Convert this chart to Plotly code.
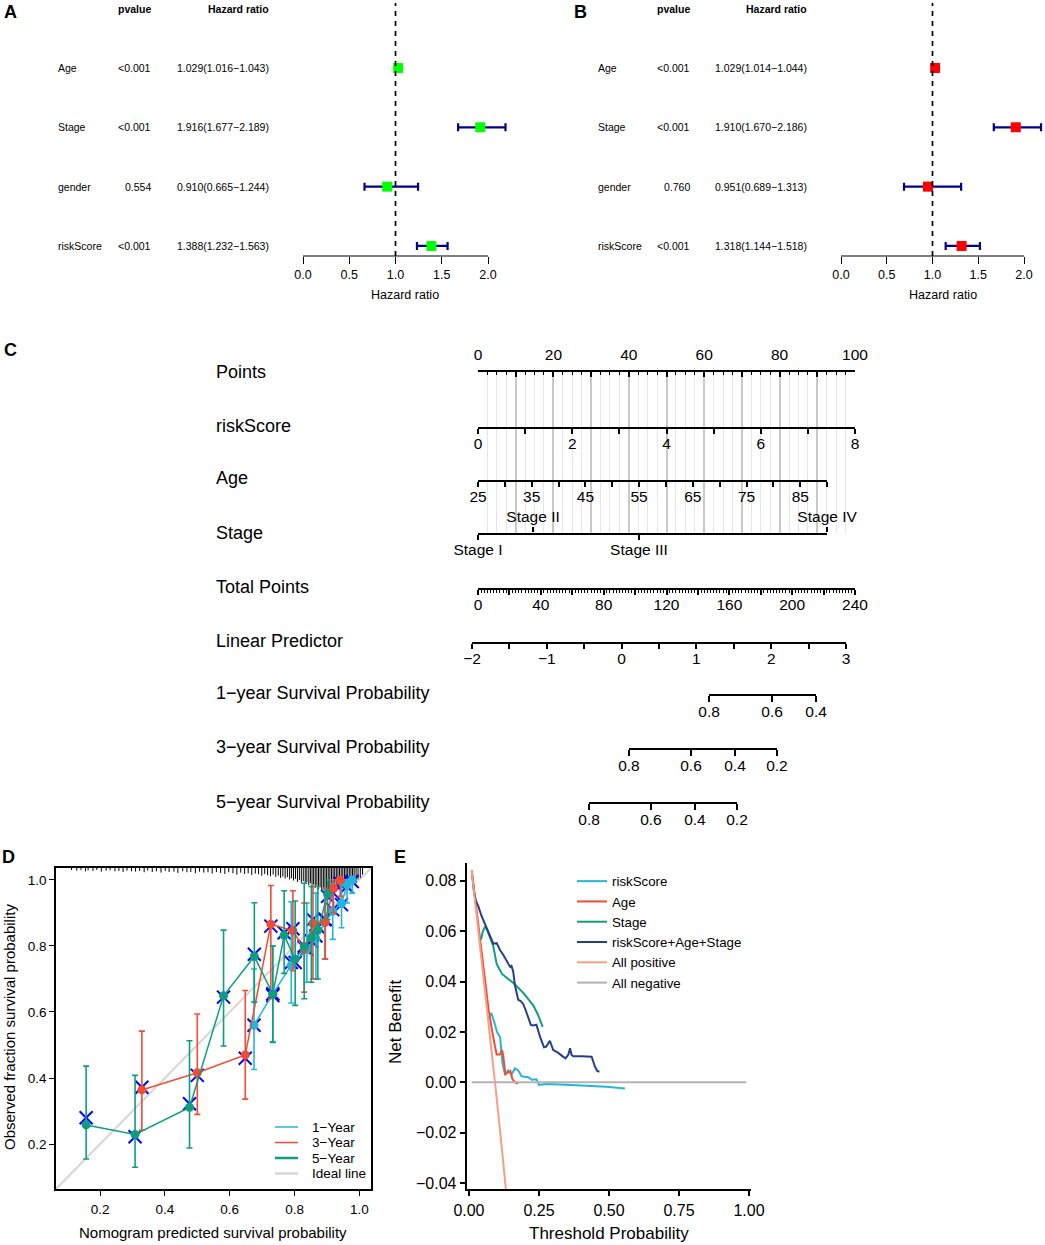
import plotly.graph_objects as go

W, H = 1045, 1245
FONT = "Liberation Sans, Arial, Helvetica, sans-serif"


def fx(p):
    return p / W


def fy(p):
    return 1 - p / H


def span(v0, p0, v1, p1, d0, d1):
    k = (v1 - v0) / (p1 - p0)
    return [v0 + (d0 - p0) * k, v0 + (d1 - p0) * k]


# ---------------- data: panels A / B (forest plots) ----------------
forest_vars = ["Age", "Stage", "gender", "riskScore"]
uni_p = ["<0.001", "<0.001", "0.554", "<0.001"]
uni_hr = [1.029, 1.916, 0.910, 1.388]
uni_lo = [1.016, 1.677, 0.665, 1.232]
uni_hi = [1.043, 2.189, 1.244, 1.563]
multi_p = ["<0.001", "<0.001", "0.760", "<0.001"]
multi_hr = [1.029, 1.910, 0.951, 1.318]
multi_lo = [1.014, 1.670, 0.689, 1.144]
multi_hi = [1.044, 2.186, 1.313, 1.518]
hr_ticks = [0.0, 0.5, 1.0, 1.5, 2.0]
hr_ticklabels = ["0.0", "0.5", "1.0", "1.5", "2.0"]

# ---------------- data: panel C (nomogram) ----------------
nomo_rows = ["Points", "riskScore", "Age", "Stage", "Total Points", "Linear Predictor",
             "1\u2212year Survival Probability", "3\u2212year Survival Probability",
             "5\u2212year Survival Probability"]
points_ticks = [0, 10, 20, 30, 40, 50, 60, 70, 80, 90, 100]
points_labels = ["0", "", "20", "", "40", "", "60", "", "80", "", "100"]
risk_ticks = [0, 1, 2, 3, 4, 5, 6, 7, 8]
risk_labels = ["0", "", "2", "", "4", "", "6", "", "8"]
age_ticks = [25, 30, 35, 40, 45, 50, 55, 60, 65, 70, 75, 80, 85, 90]
age_labels = ["25", "", "35", "", "45", "", "55", "", "65", "", "75", "", "85", ""]
stage_levels = ["Stage I", "Stage II", "Stage III", "Stage IV"]
stage_points = [0.0, 14.6, 42.7, 92.6]
age_max_points = 92.6
total_ticks = [0, 20, 40, 60, 80, 100, 120, 140, 160, 180, 200, 220, 240]
total_labels = ["0", "", "40", "", "80", "", "120", "", "160", "", "200", "", "240"]
lp_ticks = [-2, -1.5, -1, -0.5, 0, 0.5, 1, 1.5, 2, 2.5, 3]
lp_labels = ["\u22122", "", "\u22121", "", "0", "", "1", "", "2", "", "3"]
surv1_labels = ["0.8", "0.6", "0.4"]
surv1_points = [147.1, 187.2, 215.2]
surv3_labels = ["0.8", "0.6", "0.4", "0.2"]
surv3_points = [96.1, 135.6, 163.6, 190.3]
surv5_labels = ["0.8", "0.6", "0.4", "0.2"]
surv5_points = [70.7, 110.1, 138.1, 164.9]

# ---------------- data: panel D (calibration) ----------------
cal1_x = [0.675, 0.733, 0.790, 0.838, 0.866, 0.893, 0.918, 0.945, 0.962, 0.978]
cal1_y = [0.560, 0.655, 0.742, 0.790, 0.822, 0.870, 0.905, 0.928, 0.985, 1.000]
cal1_lo = [0.426, 0.510, 0.627, 0.690, 0.700, 0.760, 0.820, 0.855, 0.930, 0.960]
cal1_hi = [0.730, 0.800, 0.934, 0.930, 0.960, 0.970, 0.990, 0.985, 1.000, 1.000]
cal1_corr = [0.560, 0.650, 0.750, 0.790, 0.830, 0.880, 0.910, 0.925, 0.980, 0.995]

cal3_x = [0.329, 0.500, 0.648, 0.727, 0.795, 0.830, 0.857, 0.895, 0.920, 0.941]
cal3_y = [0.364, 0.416, 0.470, 0.866, 0.846, 0.790, 0.868, 0.872, 0.975, 1.000]
cal3_lo = [0.242, 0.290, 0.336, 0.640, 0.725, 0.660, 0.700, 0.760, 0.900, 0.950]
cal3_hi = [0.542, 0.594, 0.665, 0.983, 0.967, 0.930, 0.980, 0.975, 1.000, 1.000]
cal3_corr = [0.372, 0.408, 0.460, 0.860, 0.852, 0.795, 0.880, 0.880, 0.960, 0.990]

cal5_x = [0.157, 0.308, 0.476, 0.581, 0.676, 0.733, 0.768, 0.802, 0.830, 0.852, 0.872, 0.902]
cal5_y = [0.258, 0.229, 0.311, 0.649, 0.768, 0.654, 0.832, 0.760, 0.798, 0.825, 0.848, 0.957]
cal5_lo = [0.155, 0.130, 0.188, 0.497, 0.630, 0.508, 0.717, 0.620, 0.640, 0.690, 0.700, 0.880]
cal5_hi = [0.436, 0.408, 0.513, 0.848, 0.931, 0.800, 0.967, 0.936, 0.990, 0.980, 0.980, 1.000]
cal5_corr = [0.280, 0.222, 0.322, 0.645, 0.775, 0.655, 0.840, 0.750, 0.800, 0.815, 0.858, 0.950]

ideal_line = [0.0, 1.1]
cal_ticks = [0.2, 0.4, 0.6, 0.8, 1.0]
cal_ticklabels = ["0.2", "0.4", "0.6", "0.8", "1.0"]
cal_legend = ["1\u2212Year", "3\u2212Year", "5\u2212Year", "Ideal line"]

rug_x = [0.112, 0.128, 0.141, 0.155, 0.163, 0.178, 0.190, 0.204, 0.219, 0.231, 0.246, 0.258,
         0.271, 0.283, 0.297, 0.309, 0.322, 0.336, 0.347, 0.361, 0.374, 0.388, 0.401, 0.413,
         0.428, 0.440, 0.455, 0.468, 0.480, 0.494, 0.507, 0.520, 0.533, 0.546, 0.559, 0.572,
         0.585, 0.597, 0.610, 0.622, 0.634, 0.646, 0.657, 0.668, 0.679, 0.689, 0.699, 0.708,
         0.717, 0.726, 0.734, 0.742, 0.750, 0.757, 0.764, 0.771, 0.778, 0.785, 0.791, 0.797,
         0.803, 0.809, 0.815, 0.821, 0.827, 0.833, 0.838, 0.844, 0.849, 0.854, 0.859, 0.864,
         0.869, 0.874, 0.879, 0.884, 0.889, 0.894, 0.899, 0.904, 0.909, 0.914, 0.919, 0.924,
         0.929, 0.934, 0.939, 0.944, 0.949, 0.954, 0.959, 0.964, 0.969, 0.974, 0.979, 0.984,
         0.990, 0.996, 1.003, 1.010]
rug_h = [0.006, 0.008, 0.006, 0.010, 0.007, 0.009, 0.006, 0.011, 0.008, 0.007, 0.010, 0.009,
         0.012, 0.008, 0.010, 0.011, 0.009, 0.013, 0.008, 0.012, 0.010, 0.014, 0.009, 0.012,
         0.011, 0.015, 0.010, 0.013, 0.012, 0.016, 0.011, 0.014, 0.013, 0.017, 0.012, 0.015,
         0.018, 0.013, 0.016, 0.020, 0.014, 0.018, 0.016, 0.021, 0.017, 0.019, 0.023, 0.018,
         0.022, 0.025, 0.020, 0.027, 0.023, 0.030, 0.026, 0.032, 0.028, 0.035, 0.031, 0.038,
         0.033, 0.042, 0.036, 0.045, 0.040, 0.048, 0.043, 0.052, 0.046, 0.055, 0.050, 0.060,
         0.053, 0.064, 0.058, 0.070, 0.061, 0.068, 0.073, 0.063, 0.070, 0.066, 0.072, 0.060,
         0.068, 0.058, 0.065, 0.055, 0.062, 0.050, 0.058, 0.047, 0.055, 0.044, 0.050, 0.040,
         0.045, 0.035, 0.030, 0.020]

# ---------------- data: panel E (decision curves) ----------------
rs_x = [0.070, 0.080, 0.090, 0.100, 0.111, 0.120, 0.129, 0.140, 0.152, 0.164, 0.176, 0.188,
        0.200, 0.212, 0.224, 0.235, 0.241, 0.250, 0.276, 0.348, 0.419, 0.490, 0.557]
rs_y = [0.0255, 0.0275, 0.0240, 0.0200, 0.0180, 0.0075, 0.0030, 0.0047, 0.0030, 0.0055, 0.0047,
        0.0024, 0.0022, 0.0020, 0.0010, 0.0012, 0.0012, -0.0010, -0.0007, -0.0010, -0.0013,
        -0.0017, -0.0024]
age_x = [0.010, 0.030, 0.055, 0.070, 0.085, 0.099, 0.110, 0.118, 0.122, 0.130, 0.140, 0.148,
         0.155, 0.165, 0.176]
age_y = [0.0842, 0.0660, 0.0420, 0.0290, 0.0190, 0.0110, 0.0110, 0.0128, 0.0110, 0.0032,
         0.0040, 0.0045, 0.0013, 0.0000, -0.0005]
stage_x = [0.043, 0.050, 0.057, 0.063, 0.075, 0.087, 0.099, 0.118, 0.140, 0.158, 0.176, 0.194,
           0.212, 0.230, 0.248, 0.263]
stage_y = [0.0565, 0.0600, 0.0615, 0.0610, 0.0575, 0.0540, 0.0470, 0.0430, 0.0410, 0.0395,
           0.0375, 0.0355, 0.0330, 0.0305, 0.0265, 0.0220]
comb_x = [0.012, 0.018, 0.025, 0.033, 0.045, 0.061, 0.075, 0.087, 0.099, 0.111, 0.123, 0.135,
          0.147, 0.152, 0.158, 0.164, 0.176, 0.185, 0.194, 0.203, 0.212, 0.221, 0.230, 0.241,
          0.254, 0.268, 0.276, 0.289, 0.301, 0.318, 0.336, 0.345, 0.355, 0.361, 0.366, 0.372,
          0.402, 0.438, 0.450, 0.458, 0.466]
comb_y = [0.0820, 0.0756, 0.0720, 0.0700, 0.0660, 0.0620, 0.0585, 0.0550, 0.0552, 0.0525,
          0.0505, 0.0480, 0.0458, 0.0462, 0.0440, 0.0386, 0.0327, 0.0322, 0.0310, 0.0285,
          0.0260, 0.0228, 0.0226, 0.0229, 0.0180, 0.0139, 0.0142, 0.0165, 0.0128, 0.0118,
          0.0102, 0.0095, 0.0110, 0.0135, 0.0110, 0.0104, 0.0104, 0.0102, 0.0062, 0.0045,
          0.0042]
allpos_x = [0.0096, 0.030, 0.050, 0.070, 0.093, 0.112, 0.132]
allpos_y = [0.0842, 0.0640, 0.0435, 0.0225, 0.0000, -0.0200, -0.0425]
allneg_x = [0.01, 0.99]
allneg_y = [0.0, 0.0]
dca_xticks = [0.0, 0.25, 0.5, 0.75, 1.0]
dca_xlabels = ["0.00", "0.25", "0.50", "0.75", "1.00"]
dca_yticks = [-0.04, -0.02, 0.0, 0.02, 0.04, 0.06, 0.08]
dca_ylabels = ["\u22120.04", "\u22120.02", "0.00", "0.02", "0.04", "0.06", "0.08"]

# ---------------- colours ----------------
C_CYAN = "#22B6DC"
C_RED = "#F24C33"
C_TEAL = "#0E9E7F"
C_NAVY = "#243F8C"
C_SALMON = "#F79E83"
C_GRAY = "#B3B3B3"
C_IDEAL = "#D6D6D6"

fig = go.Figure()
L = dict(width=W, height=H, margin=dict(l=0, r=0, t=0, b=0, pad=0, autoexpand=False),
         paper_bgcolor="white", plot_bgcolor="rgba(0,0,0,0)",
         font=dict(family=FONT, color="black"), showlegend=True)
ann = []
shp = []


def axname(i, kind):
    return f"{kind}axis" if i == 1 else f"{kind}axis{i}"


def ref(i, kind):
    return kind if i == 1 else f"{kind}{i}"


def text(px, py, s, size, xanchor="center", bold=False, angle=0):
    ann.append(dict(x=fx(px), y=fy(py), xref="paper", yref="paper", text=f"<b>{s}</b>" if bold else s,
                    showarrow=False, xanchor=xanchor, yanchor="middle", textangle=angle,
                    font=dict(size=size, family=FONT, color="black")))


# ---------------- forest plots ----------------
def forest(i, hr, lo, hi, pv, color, p0, p2, dom, lab_x, p_x, hr_x, title_x):
    cats = forest_vars[::-1]
    fig.add_trace(go.Scatter(
        x=hr, y=forest_vars, mode="markers",
        marker=dict(symbol="square", size=10, color=color),
        error_x=dict(type="data", symmetric=False,
                     array=[h - r for h, r in zip(hi, hr)],
                     arrayminus=[r - l for r, l in zip(hr, lo)],
                     color="#00008B", thickness=2.2, width=4),
        xaxis=ref(i, "x"), yaxis=ref(i, "y"), showlegend=False, hoverinfo="skip"))
    L[axname(i, "x")] = dict(domain=[fx(dom[0]), fx(dom[1])], range=span(0, p0, 2, p2, dom[0], dom[1]),
                             anchor=ref(i, "y"), tickmode="array", tickvals=hr_ticks,
                             ticktext=hr_ticklabels, ticks="outside", ticklen=7, tickwidth=1,
                             tickcolor="black", showgrid=False, zeroline=False, showline=False,
                             tickfont=dict(size=12.5), fixedrange=True)
    L[axname(i, "y")] = dict(domain=[fy(256), fy(3)], range=[-0.169, 4.095], type="category",
                             categoryorder="array", categoryarray=cats, visible=False,
                             anchor=ref(i, "x"), fixedrange=True)
    shp.append(dict(type="line", xref=ref(i, "x"), yref=ref(i, "y") + " domain", x0=hr_ticks[0],
                    x1=hr_ticks[-1], y0=0, y1=0, line=dict(color="black", width=1.2)))
    shp.append(dict(type="line", xref=ref(i, "x"), yref=ref(i, "y") + " domain", x0=1, x1=1,
                    y0=0, y1=1, line=dict(color="black", width=1.7, dash="5px,5px")))
    for k, v in enumerate(forest_vars):
        yy = cats.index(v)
        for xpos, s, anc in [(lab_x, v, "left"), (p_x, pv[k], "right"),
                             (hr_x, f"{hr[k]:.3f}({lo[k]:.3f}\u2212{hi[k]:.3f})", "right")]:
            ann.append(dict(x=fx(xpos), y=yy, xref="paper", yref=ref(i, "y"), text=s,
                            showarrow=False, xanchor=anc, yanchor="middle",
                            font=dict(size=10.5, family=FONT, color="black")))
    text(p_x, 9, "pvalue", 10.5, "right", bold=True)
    text(hr_x, 9, "Hazard ratio", 10.5, "right", bold=True)
    text(title_x, 295, "Hazard ratio", 12.5)


forest(1, uni_hr, uni_lo, uni_hi, uni_p, "#00FF00", 303, 488, (290, 515), 56, 153, 271, 405)
forest(2, multi_hr, multi_lo, multi_hi, multi_p, "#FF0000", 841, 1024, (830, 1045), 596, 692, 809, 943)
text(10, 12, "A", 18, bold=True)
text(580, 12, "B", 18, bold=True)

# ---------------- nomogram ----------------
P0, P100 = 478, 855


def px_pts(p):
    return P0 + p * (P100 - P0) / 100.0


def px_tot(t):
    return P0 + t * (P100 - P0) / 240.0


def nomo(i, line_py, d0, d1, rng, tv, tt, side="bottom", ticks="outside", ticklen=5,
         minor=None, ydom=None, extra=None, showline=True, standoff=-4):
    eps = (rng[1] - rng[0]) * 1e-6
    xa = dict(domain=[fx(d0), fx(d1)], range=[rng[0] - eps, rng[1] + eps], anchor=ref(i, "y"),
              side=side, tickmode="array", tickvals=tv, ticktext=tt, ticks=ticks, ticklen=ticklen,
              tickwidth=1.6, tickcolor="black", showline=showline, linewidth=2, linecolor="black",
              zeroline=False, showgrid=False, tickfont=dict(size=15.5), fixedrange=True,
              ticklabelstandoff=standoff)
    if minor:
        xa["minor"] = minor
    if extra:
        xa.update(extra)
    if ydom is None:
        base = fy(line_py)
        ydom = [base, base + 0.0008] if side == "bottom" else [base - 0.0008, base]
    L[axname(i, "x")] = xa
    L[axname(i, "y")] = dict(domain=ydom, range=[0, 1], visible=False, anchor=ref(i, "x"),
                             fixedrange=True)
    fig.add_trace(go.Scatter(x=[rng[0], rng[1]], y=[0.5, 0.5], mode="markers",
                             marker=dict(opacity=0, size=1), xaxis=ref(i, "x"), yaxis=ref(i, "y"),
                             showlegend=False, hoverinfo="skip"))


nomo(3, 372, px_pts(0), px_pts(100), [0, 100], points_ticks, points_labels, side="top",
     ticks="inside", ticklen=5, ydom=[fy(533), fy(372)], standoff=4,
     minor=dict(tickmode="linear", tick0=0, dtick=2.5, ticks="inside", ticklen=3, tickwidth=1.3,
                tickcolor="black", showgrid=True, gridcolor="#E6E6E6", gridwidth=1),
     extra=dict(showgrid=True, gridcolor="#C9C9C9", gridwidth=1.6))
nomo(4, 427, px_pts(0), px_pts(100), [risk_ticks[0], risk_ticks[-1]], risk_ticks, risk_labels)
nomo(5, 480, px_pts(0), px_pts(age_max_points), [age_ticks[0], age_ticks[-1]], age_ticks, age_labels)
nomo(6, 533, px_pts(0), px_pts(stage_points[-1]), [0, stage_points[-1]],
     [stage_points[0], stage_points[2]], [stage_levels[0], stage_levels[2]])
nomo(7, 533, px_pts(0), px_pts(stage_points[-1]), [0, stage_points[-1]],
     [stage_points[1], stage_points[3]], [stage_levels[1], stage_levels[3]], side="top",
     showline=False, standoff=-1)
nomo(8, 588, px_tot(0), px_tot(240), [0, 240], total_ticks, total_labels,
     minor=dict(tickmode="linear", tick0=0, dtick=2, ticks="outside", ticklen=3, tickwidth=1.2,
                tickcolor="black"))
nomo(9, 642, 472, 846, [lp_ticks[0], lp_ticks[-1]], lp_ticks, lp_labels)
nomo(10, 694, px_tot(surv1_points[0]), px_tot(surv1_points[-1]),
     [surv1_points[0], surv1_points[-1]], surv1_points, surv1_labels, ticklen=6)
nomo(11, 748, px_tot(surv3_points[0]), px_tot(surv3_points[-1]),
     [surv3_points[0], surv3_points[-1]], surv3_points, surv3_labels, ticklen=6)
nomo(12, 802, px_tot(surv5_points[0]), px_tot(surv5_points[-1]),
     [surv5_points[0], surv5_points[-1]], surv5_points, surv5_labels, ticklen=6)

row_py = [372, 426, 478, 533, 587, 641, 693, 747, 802]
for name, py in zip(nomo_rows, row_py):
    text(214, py, name, 18, "left")
text(10, 350, "C", 18, bold=True)

# ---------------- calibration (D) ----------------
DX, DY = "x13", "y13"
fig.add_trace(go.Scatter(x=ideal_line, y=ideal_line, mode="lines", line=dict(color=C_IDEAL, width=2),
                         xaxis=DX, yaxis=DY, showlegend=False, hoverinfo="skip"))
top = 1.036
rx, ry = [], []
for xv, hv in zip(rug_x, rug_h):
    rx += [xv, xv, None]
    ry += [top, top - hv, None]
fig.add_trace(go.Scatter(x=rx, y=ry, mode="lines", line=dict(color="black", width=1),
                         xaxis=DX, yaxis=DY, showlegend=False, hoverinfo="skip"))
series = [(cal1_x, cal1_y, cal1_lo, cal1_hi, cal1_corr, C_CYAN, 1.5),
          (cal3_x, cal3_y, cal3_lo, cal3_hi, cal3_corr, C_RED, 1.5),
          (cal5_x, cal5_y, cal5_lo, cal5_hi, cal5_corr, C_TEAL, 2.5)]
for sx, sy, slo, shi, sc, col, lw in series:
    fig.add_trace(go.Scatter(x=sx, y=sc, mode="markers",
                             marker=dict(symbol="x-thin", size=13, line=dict(width=2, color="#0000FF")),
                             xaxis=DX, yaxis=DY, showlegend=False, hoverinfo="skip"))
for sx, sy, slo, shi, sc, col, lw in series:
    fig.add_trace(go.Scatter(x=sx, y=sy, mode="lines+markers", line=dict(color=col, width=1.5),
                             marker=dict(symbol="circle", size=9, color=col),
                             error_y=dict(type="data", symmetric=False,
                                          array=[h - v for h, v in zip(shi, sy)],
                                          arrayminus=[v - l for v, l in zip(sy, slo)],
                                          color=col, thickness=1.6, width=3),
                             xaxis=DX, yaxis=DY, showlegend=False, hoverinfo="skip"))
# key for panel D (compact, inside the frame)
leg_cols = [C_CYAN, C_RED, C_TEAL, C_IDEAL]
leg_w = [1.5, 1.5, 2.5, 2.5]
for k, (nm, col, lw) in enumerate(zip(cal_legend, leg_cols, leg_w)):
    py = 1127 + k * 15.5
    shp.append(dict(type="line", xref="paper", yref="paper", x0=fx(275), x1=fx(298), y0=fy(py),
                    y1=fy(py), line=dict(color=col, width=lw)))
    text(310, py, nm, 13.5, "left")

axD = dict(tickmode="array", ticks="outside", ticklen=5, tickwidth=1.3, tickcolor="black",
           showline=True, linewidth=1.6, linecolor="black", mirror=True, showgrid=False,
           zeroline=False, tickfont=dict(size=13.5), range=[0.064, 1.036], fixedrange=True)
L["xaxis13"] = dict(axD, domain=[fx(56), fx(371)], anchor="y13", tickvals=cal_ticks,
                    ticktext=cal_ticklabels, ticklabelstandoff=2)
L["yaxis13"] = dict(axD, domain=[fy(1189), fy(868)], anchor="x13", tickvals=cal_ticks,
                    ticktext=cal_ticklabels)
text(9, 1027, "Observed fraction survival probability", 15, angle=-90)
text(213, 1232, "Nomogram predicted survival probability", 15)
text(8, 857, "D", 18, bold=True)

# ---------------- decision curves (E) ----------------
EX, EY = "x14", "y14"
dca = [("riskScore", rs_x, rs_y, C_CYAN), ("Age", age_x, age_y, C_RED),
       ("Stage", stage_x, stage_y, C_TEAL), ("riskScore+Age+Stage", comb_x, comb_y, C_NAVY),
       ("All positive", allpos_x, allpos_y, C_SALMON), ("All negative", allneg_x, allneg_y, C_GRAY)]
for nm, xs, ys, col in dca:
    fig.add_trace(go.Scatter(x=xs, y=ys, mode="lines", line=dict(color=col, width=2), name=nm,
                             xaxis=EX, yaxis=EY, legend="legend", hoverinfo="skip"))
axE = dict(tickmode="array", ticks="outside", ticklen=5, tickwidth=1.5, tickcolor="black",
           showline=True, linewidth=2, linecolor="black", showgrid=False, zeroline=False,
           tickfont=dict(size=16), fixedrange=True)
L["xaxis14"] = dict(axE, domain=[fx(466.7), fx(750.7)], range=[-0.008, 1.006], anchor="y14",
                    tickvals=dca_xticks, ticktext=dca_xlabels, ticklabelstandoff=1)
L["yaxis14"] = dict(axE, domain=[fy(1189), fy(863)], range=[-0.0423, 0.087], anchor="x14",
                    tickvals=dca_yticks, ticktext=dca_ylabels)
L["legend"] = dict(x=fx(572), y=fy(866), xanchor="left", yanchor="top",
                   font=dict(size=13.3, family=FONT),
                   bgcolor="rgba(0,0,0,0)", tracegroupgap=0, itemwidth=30)
text(396, 1022, "Net Benefit", 17, angle=-90)
text(609, 1233, "Threshold Probability", 17)
text(400, 857, "E", 18, bold=True)

L["annotations"] = ann
L["shapes"] = shp
fig.update_layout(**L)
fig.write_html("out.html", config={"displayModeBar": False},
               post_script="document.body.style.margin='0px';document.body.style.overflow='hidden';")
